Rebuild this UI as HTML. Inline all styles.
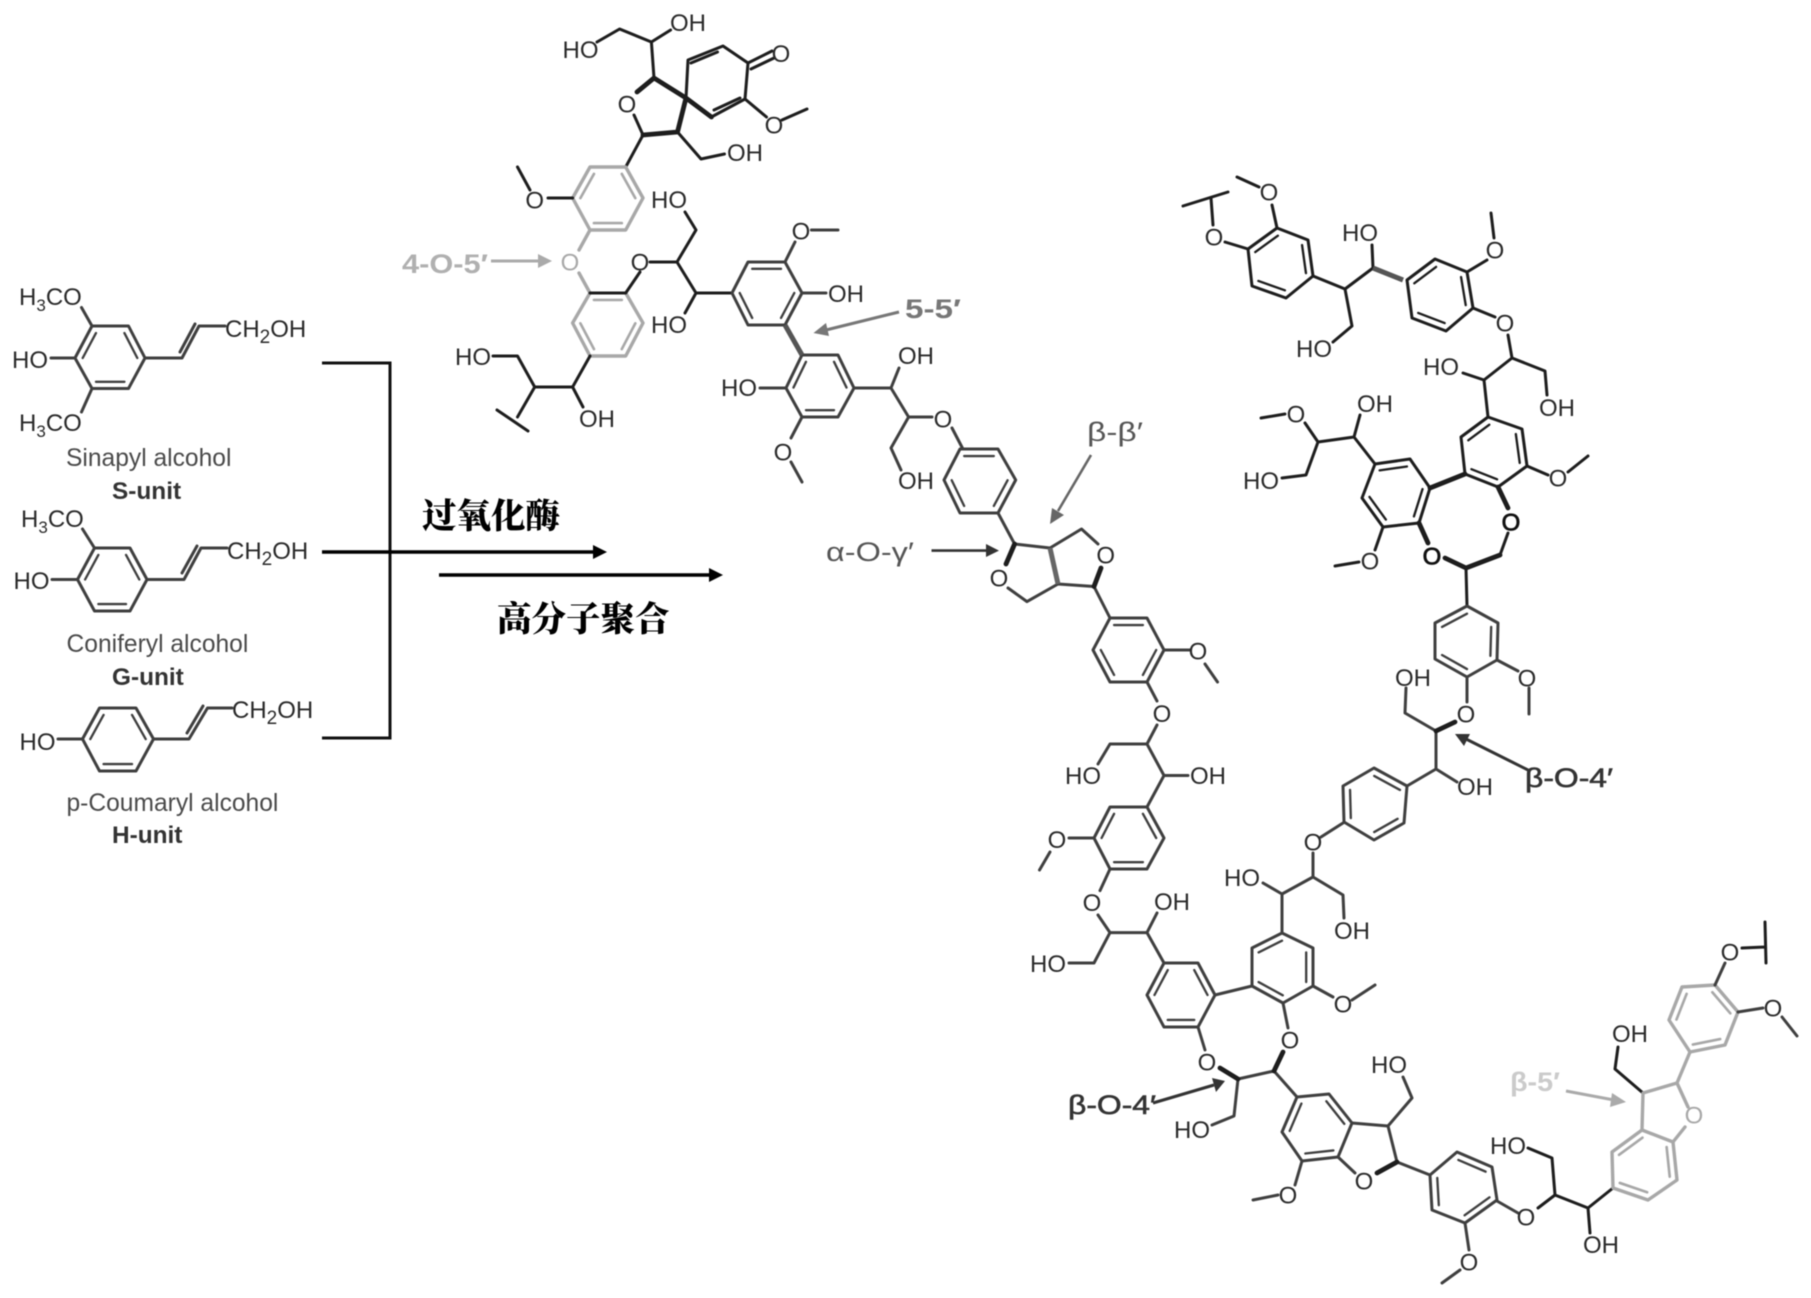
<!DOCTYPE html>
<html><head><meta charset="utf-8"><style>
html,body{margin:0;padding:0;background:#fff}
svg{display:block;filter:blur(.6px)}
text{font-family:"Liberation Sans","Noto Sans CJK SC",sans-serif;font-size:24px;fill:#2a2a2a}
.o{text-anchor:middle}
.n{fill:#4a4a4a;font-size:24.6px}
.b{font-weight:bold;fill:#333;font-size:24.4px}
.l{font-size:27px;fill:#555}
.zh{font-family:"Liberation Serif","Noto Serif CJK SC",serif;font-weight:900;font-size:34.5px;fill:#000}
.k,.d,.g,.w,.t{fill:none;stroke-linejoin:round;stroke-linecap:round}
.k{stroke:#1d1d1d;stroke-width:3}
.d{stroke:#3f3f3f;stroke-width:3}
.g{stroke:#a8a8a8;stroke-width:3.4}
.w{stroke:#1d1d1d;stroke-width:4.8}
</style></head><body>
<svg width="1811" height="1298" viewBox="0 0 1811 1298" xmlns="http://www.w3.org/2000/svg">
<rect width="1811" height="1298" fill="#fff"/>

<!-- monolignols -->
<g class="d">
<path d="M92 326H128.500L145 358L128.500 388.500H92L75 358Z"/><path transform="translate(110 358) scale(.78) translate(-110 -358)" d="M128.500 326L145 358M75 358L92 326M128.500 388.500H92"/>
<path d="M145 358H182L199 326H225M81.500 307.500L92 326M51 358H75M92 388.500L81.500 412M180 352L195 324"/>
<path d="M94.500 548H130L147 579.500L130 611H94.500L77.500 579.500Z"/><path transform="translate(112 579.500) scale(.78) translate(-112 -579.500)" d="M130 548L147 579.500M77.500 579.500L94.500 548M130 611H94.500"/>
<path d="M147 579.500H184L201 548H227M82.500 529L94.500 548M52 579.500H77.500M182 573L197 546"/>
<path d="M99.500 708H136L153.500 739L136 771H99.500L82.500 739Z"/><path transform="translate(118 739.500) scale(.78) translate(-118 -739.500)" d="M136 708L153.500 739M82.500 739L99.500 708M136 771H99.500"/>
<path d="M153.500 739H189L207.500 708H232M58 739H82.500M187 733L203 706"/>
</g>
<text x="19" y="305">H<tspan dy="6" font-size="17">3</tspan><tspan dy="-6">CO</tspan></text>
<text x="12" y="368">HO</text>
<text x="19" y="431">H<tspan dy="6" font-size="17">3</tspan><tspan dy="-6">CO</tspan></text>
<text x="225" y="337">CH<tspan dy="6" font-size="19">2</tspan><tspan dy="-6">OH</tspan></text>
<text class="n" x="66" y="466">Sinapyl alcohol</text>
<text class="b" x="112" y="499">S-unit</text>
<text x="21" y="527">H<tspan dy="6" font-size="17">3</tspan><tspan dy="-6">CO</tspan></text>
<text x="13.500" y="589">HO</text>
<text x="227" y="559">CH<tspan dy="6" font-size="19">2</tspan><tspan dy="-6">OH</tspan></text>
<text class="n" x="66.500" y="652">Coniferyl alcohol</text>
<text class="b" x="112" y="685">G-unit</text>
<text x="19.500" y="750">HO</text>
<text x="232" y="718">CH<tspan dy="6" font-size="19">2</tspan><tspan dy="-6">OH</tspan></text>
<text class="n" x="66.500" y="811">p-Coumaryl alcohol</text>
<text class="b" x="112" y="843">H-unit</text>

<!-- bracket and arrows -->
<path d="M322 363H390V738H322" fill="none" stroke="#111" stroke-width="3"/>
<path d="M322 552H596M439 575H712" fill="none" stroke="#000" stroke-width="3.500"/>
<polygon points="607,552 593,545 593,559" fill="#000"/>
<polygon points="723,575 709,568 709,582" fill="#000"/>
<text class="zh" x="422" y="528">过氧化酶</text>
<text class="zh" x="497" y="631">高分子聚合</text>

<!-- top spiro -->
<g class="k">
<path d="M597 42L619.600 29L651.400 42L670.600 30M651.400 42L654 78M643 135L625.700 167M677.500 132L701 159L724.500 154"/>
<path d="M634 115L643 135"/>
<path d="M686 98L688 60L723 46L748 63L745 99L711.400 117"/>
<path d="M691 63L717.500 52M714 110L740 98M748 63L772 51M751 69L774 58M745 99L766.500 117M782 120L807 109"/>
</g>
<path class="w" d="M654 78L637 92M643 135L677.500 132L686 98L654 78M686 98L711.400 117"/>
<text x="562.500" y="58">HO</text><text x="670" y="31">OH</text>
<text class="o" x="627" y="112.500">O</text><text class="o" x="781" y="62">O</text><text class="o" x="774" y="133.500">O</text>
<text x="727" y="161">OH</text>

<!-- 4-O-5' rings -->
<g class="g">
<path d="M625.700 167H590L572.600 198L590 230H625.700L643 198Z"/><path transform="translate(608 198.500) scale(.78) translate(-608 -198.500)" d="M590 167L572.600 198M625.700 167L643 198M590 230H625.700"/>
<path d="M590 230L579 250M579 273L590 293"/>
<path d="M625.700 293L643 323L625.700 356H590L572.600 323L590 293"/><path transform="translate(608 324.500) scale(.78) translate(-608 -324.500)" d="M590 293H625.700M572.600 323L590 356M643 323L625.700 356"/>
</g>
<g class="k">
<path d="M572.600 198H548M530 190L517.500 167M590 293H625.700L640 272M650 262H677L696 230L685 212M677 262L696 293H732M696 293L685 313"/>
<path d="M590 356L572.600 387H534.700L517.500 356H493M534.700 387L517.500 417M497 410L528 431M572.600 387L583 407"/>
</g>
<text class="o" x="534.700" y="208.500">O</text>
<text class="o" x="570" y="270.500" style="fill:#a8a8a8">O</text>
<text class="o" x="640" y="270.500">O</text>
<text x="651" y="208">HO</text><text x="651" y="333">HO</text><text x="455" y="365">HO</text><text x="579" y="427">OH</text>
<path d="M491 261H540" stroke="#aaa" stroke-width="3" fill="none"/><polygon points="552,261 538,254 538,268" fill="#aaa"/>
<text class="l" x="402" y="273" textLength="86" lengthAdjust="spacingAndGlyphs" style="fill:#b0b0b0;font-weight:bold">4-O-5′</text>

<!-- 5-5' -->
<g class="d">
<path d="M732 293L748 262H785L802 293L785 325H748Z"/><path transform="translate(767 293) scale(.78) translate(-767 -293)" d="M748 262H785M802 293L785 325M732 293L748 325"/>
<path d="M785 262L795 242M811.400 230H838M802 293H826"/>
<path d="M802 355H838L854 388L838 417H802L786 388Z"/><path transform="translate(820 386) scale(.78) translate(-820 -386)" d="M802 355L786 388M838 355L854 388M838 417H802"/>
<path d="M786 388H760M802 417L791 438M791 462L802 482M854 388H891L899 368M891 388L908.600 417H932M908.600 417L891 448L901 470M952 428L962.400 448"/>
</g>
<path d="M785 325L802 355" stroke="#555" stroke-width="5" fill="none"/>
<text class="o" x="801" y="239.500">O</text><text x="828" y="302">OH</text><text x="721" y="396">HO</text>
<text class="o" x="783" y="460.500">O</text><text x="898" y="364">OH</text><text class="o" x="943" y="427.500">O</text><text x="898" y="489">OH</text>
<path d="M899 312L826 330" stroke="#777" stroke-width="3" fill="none"/><polygon points="813.500,333 826,323 829,336" fill="#777"/>
<text class="l" x="905" y="318" textLength="56" lengthAdjust="spacingAndGlyphs" style="fill:#777;font-weight:bold">5-5′</text>

<!-- beta-beta -->
<g class="d">
<path d="M960 449H998L1015.700 480L998 513H960L944 480Z"/><path transform="translate(979 481) scale(.78) translate(-979 -481)" d="M960 449H998M1015.700 480L998 513M944 480L960 513"/>
<path d="M998 513L1014.600 544L1050 548L1081.500 529L1098 544M1094 586.500L1058 584L1027 601.600L1008 588M1094 586.500L1110 618"/>
<path d="M1110 618H1147L1164 650L1147 682H1110L1093 650Z"/><path transform="translate(1128.500 650) scale(.78) translate(-1128.500 -650)" d="M1110 618H1147M1164 650L1147 682M1093 650L1110 682"/>
<path d="M1164 650H1190M1205 664L1217.500 682M1147 682L1157 701M1157 725L1147 744H1110L1098 764M1147 744L1164 775.500H1188M1164 775.500L1147 807"/>
<path d="M1147 807H1110L1094 838L1110 869H1147L1164 838Z"/><path transform="translate(1128.500 838) scale(.78) translate(-1128.500 -838)" d="M1110 807L1094 838M1147 807L1164 838M1110 869H1147"/>
<path d="M1094 838H1069M1050 852L1039.500 870M1110 869L1100 890.600M1098 915L1110 932.600H1147L1157 913M1110 932.600L1094 963H1069M1147 932.600L1164 963"/>
</g>
<path class="w" d="M1006 564L1014.600 544M1101 568L1094 586.500"/>
<path d="M1058 584L1050 548" stroke="#666" stroke-width="5" fill="none"/>
<text class="o" x="999" y="586.500">O</text><text class="o" x="1105.700" y="563.500">O</text>
<text class="o" x="1198" y="659.500">O</text><text class="o" x="1162" y="722">O</text>
<text x="1065" y="784">HO</text><text x="1190" y="784">OH</text>
<text class="o" x="1057" y="848">O</text><text class="o" x="1092" y="911">O</text>
<text x="1154" y="910">OH</text><text x="1030" y="972">HO</text>
<text class="l" x="1087" y="441" textLength="56" lengthAdjust="spacingAndGlyphs">β-β′</text>
<text class="l" x="826" y="561" textLength="88" lengthAdjust="spacingAndGlyphs">α-O-γ′</text>
<path d="M931.500 550.600H989" stroke="#333" stroke-width="2.600" fill="none"/><polygon points="999,550.600 986,544 986,557" fill="#333"/>
<path d="M1091 455L1058 511" stroke="#666" stroke-width="2.600" fill="none"/><polygon points="1050,524 1052,508 1064,515" fill="#666"/>

<!-- lower centre -->
<g class="d">
<path d="M1164 963H1198L1215 995L1198 1027H1164L1147 995Z"/><path transform="translate(1181 995) scale(.78) translate(-1181 -995)" d="M1164 963L1147 995M1198 963L1215 995M1198 1027H1164"/>
<path d="M1215 995L1252 986"/>
<path d="M1282 933L1313 948V986L1283 1003L1252 986V948Z"/><path transform="translate(1282 968) scale(.78) translate(-1282 -968)" d="M1282 933L1252 948M1313 948V986M1252 986L1283 1003"/>
<path d="M1282 933V894L1263 883M1282 894L1313 877V853M1321 837L1343 823M1313 877L1343 895L1344 918M1313 986L1333 997M1352 1000L1375 985M1283 1003L1288 1028M1198 1027L1205 1050M1238 1079L1274 1071M1238 1079L1234 1116L1212 1125M1274 1071L1297 1097"/>
<path d="M1297 1097L1329 1094L1352 1123L1338 1157L1302 1161L1282 1132Z"/><path transform="translate(1317 1127) scale(.78) translate(-1317 -1127)" d="M1297 1097L1282 1132M1329 1094L1352 1123M1338 1157L1302 1161"/>
<path d="M1352 1123L1388 1126L1397 1162M1338 1157L1355 1173M1388 1126L1412 1098L1403 1077M1302 1161L1295 1185M1278 1195L1253 1200M1397 1162L1430 1175"/>
<path d="M1430 1175L1457 1152L1492 1167L1497 1200L1465 1223L1432 1210Z"/><path transform="translate(1463 1188) scale(.78) translate(-1463 -1188)" d="M1457 1152L1492 1167M1430 1175L1432 1210M1497 1200L1465 1223"/>
<path d="M1465 1223L1469 1250M1460 1270L1442 1283M1497 1201L1518 1213"/>
</g>
<path class="w" d="M1283 1052L1274 1071M1220 1068L1238 1079M1377 1173L1397 1162"/>
<text x="1224" y="886">HO</text><text class="o" x="1313" y="850.500">O</text><text x="1334" y="939">OH</text>
<text class="o" x="1343" y="1012.500">O</text><text class="o" x="1290" y="1048.500">O</text><text class="o" x="1207" y="1070.500">O</text>
<text x="1174" y="1138">HO</text><text x="1371" y="1073">HO</text>
<text class="o" x="1364" y="1189.500">O</text><text class="o" x="1288" y="1203.500">O</text><text class="o" x="1469" y="1270.500">O</text>
<text class="l" x="1068" y="1114" textLength="88" lengthAdjust="spacingAndGlyphs" style="fill:#333;stroke:#333;stroke-width:.6">β-O-4′</text>
<path d="M1153 1103L1214 1085" stroke="#333" stroke-width="3" fill="none"/><polygon points="1225,1081 1212,1078 1216,1092" fill="#333"/>

<!-- lower right -->
<g class="k">
<path d="M1538 1208L1555 1195L1552 1158L1528 1148M1555 1195L1588 1208L1613 1188M1588 1208L1590 1233M1643 1093L1615 1069L1618 1047M1742 948L1765 947M1765 922L1766 963"/>
</g>
<text class="o" x="1526" y="1225.500">O</text><text x="1490" y="1154">HO</text><text x="1583" y="1253">OH</text><text x="1612" y="1042">OH</text>
<g class="g">
<path d="M1613 1188L1612 1152L1642 1130L1673 1142L1677 1180L1648 1200Z"/><path transform="translate(1644 1165) scale(.78) translate(-1644 -1165)" d="M1612 1152L1642 1130M1673 1142L1677 1180M1613 1188L1648 1200"/>
<path d="M1642 1130L1643 1093L1677 1083L1688 1107M1685 1127L1673 1142M1677 1083L1690 1052"/>
<path d="M1690 1052L1725 1045L1738 1012L1715 985L1682 987L1669 1020Z"/><path transform="translate(1703 1018) scale(.78) translate(-1703 -1018)" d="M1690 1052L1725 1045M1738 1012L1715 985M1682 987L1669 1020"/>
</g>
<path d="M1738 1012L1763 1008M1782 1017L1797 1036M1715 985L1725 963" class="d"/>
<text class="o" x="1694" y="1123.500" style="fill:#a8a8a8">O</text>
<text class="o" x="1773" y="1016.500">O</text><text class="o" x="1730" y="960.500">O</text>
<text class="l" x="1510" y="1091" textLength="50" lengthAdjust="spacingAndGlyphs" style="fill:#cbcbcb;font-weight:bold">β-5′</text>
<path d="M1566 1091L1614 1100" stroke="#aaa" stroke-width="3" fill="none"/><polygon points="1626,1102 1612,1093 1610,1107" fill="#aaa"/>

<!-- upper right -->
<g class="k">
<path d="M1183 206L1228 192M1211 198L1213 225M1225 242L1248 249"/>
<path d="M1248 249L1277 228L1308 240L1313 276L1286 298L1252 286Z"/><path transform="translate(1281 263) scale(.78) translate(-1281 -263)" d="M1248 249L1277 228M1308 240L1313 276M1286 298L1252 286"/>
<path d="M1277 228L1272 205M1259 187L1237 177M1313 276L1345 289L1373 268L1372 245M1345 289L1352 326L1333 342"/>
<path d="M1407 280L1435 259L1467 272L1473 308L1446 331L1412 318Z"/><path transform="translate(1440 295) scale(.78) translate(-1440 -295)" d="M1407 280L1435 259M1467 272L1473 308M1446 331L1412 318"/>
<path d="M1467 272L1487 260M1494 238L1491 213M1473 308L1495 317M1508 335L1512 358L1484 380L1463 373M1512 358L1545 371L1547 395M1484 380L1488 417"/>
<path d="M1488 417L1522 429L1527 466L1498 487L1465 474L1461 437Z"/><path transform="translate(1494 452) scale(.78) translate(-1494 -452)" d="M1488 417L1461 437M1522 429L1527 466M1498 487L1465 474"/>
<path d="M1527 466L1548 475M1568 472L1588 456M1498 487L1508 508"/>
<path d="M1430 488L1410 459L1375 464L1362 498L1383 527L1419 523Z"/><path transform="translate(1396 493) scale(.78) translate(-1396 -493)" d="M1410 459L1375 464M1430 488L1419 523M1362 498L1383 527"/>
<path d="M1375 464L1354 437L1318 442L1305 423M1354 437L1360 415M1285 414L1261 418M1318 442L1306 475L1282 478M1383 527L1375 550M1359 562L1335 566"/>
<path d="M1466 568L1467 606M1508 533L1500 555"/>
</g>
<path d="M1373 268L1403 280" stroke="#555" stroke-width="5" fill="none"/>
<path class="w" d="M1465 474L1430 488M1419 523L1428 543M1445 558L1466 568L1500 555M1498 487L1508 508"/>
<text class="o" x="1214" y="245.500">O</text><text class="o" x="1269" y="200.500">O</text>
<text x="1342" y="241">HO</text><text x="1296" y="357">HO</text>
<text class="o" x="1495" y="258.500">O</text><text class="o" x="1505" y="331.500">O</text>
<text x="1423" y="375">HO</text><text x="1539" y="416">OH</text>
<text class="o" x="1558" y="486.500">O</text><text x="1357" y="412">OH</text>
<text class="o" x="1296" y="422.500">O</text><text x="1243" y="489">HO</text>
<text class="o" x="1370" y="569.500">O</text>
<text class="o" x="1432" y="564.500" style="fill:#111;stroke:#111;stroke-width:.8">O</text>
<text class="o" x="1511" y="530.500" style="fill:#111;stroke:#111;stroke-width:.8">O</text>

<!-- right middle -->
<g class="d">
<path d="M1467 606L1498 623L1497 660L1467 677L1435 659V623Z"/><path transform="translate(1467 641) scale(.78) translate(-1467 -641)" d="M1467 606L1435 623M1498 623L1497 660M1467 677L1435 659"/>
<path d="M1497 660L1518 671M1529 688V714M1467 677V702M1436 731L1405 713L1406 688M1436 731V769L1407 786M1436 769L1457 782"/>
<path d="M1407 786L1374 768L1343 786L1344 822L1374 840L1404 823Z"/><path transform="translate(1375 804) scale(.78) translate(-1375 -804)" d="M1407 786L1374 768M1343 786L1344 822M1374 840L1404 823"/>
</g>
<path class="w" d="M1455 722L1436 731"/>
<text class="o" x="1527" y="686.500">O</text><text class="o" x="1466" y="722.500">O</text>
<text x="1395" y="686">OH</text><text x="1457" y="795">OH</text>
<text class="l" x="1525" y="787" textLength="88" lengthAdjust="spacingAndGlyphs" style="fill:#333;stroke:#333;stroke-width:.6">β-O-4′</text>
<path d="M1528 770L1466 739" stroke="#333" stroke-width="3" fill="none"/><polygon points="1455,734 1470,734 1464,746" fill="#333"/>
</svg>
</body></html>
